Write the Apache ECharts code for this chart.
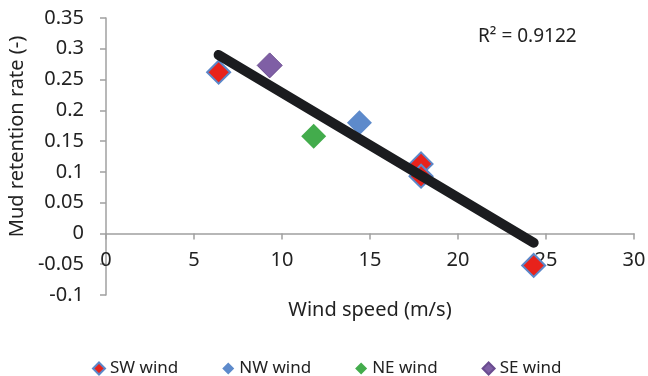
<!DOCTYPE html>
<html>
<head>
<meta charset="utf-8">
<script src="https://cdn.jsdelivr.net/npm/echarts@6/dist/echarts.min.js"></script>
<style>
html, body { margin: 0; padding: 0; background: #fff; }
#chart { width: 648px; height: 376px; }
</style>
</head>
<body>
<div id="chart"></div>
<script>
// wind speed (m/s), mud retention rate (-)
var swWind = [[6.4, 0.262], [17.9, 0.113], [17.9, 0.093], [24.3, -0.052]];
var nwWind = [[14.4, 0.180]];
var neWind = [[11.8, 0.158]];
var seWind = [[9.3, 0.273]];
var trendLine = [[6.4, 0.290], [24.3, -0.015]];
var rSquared = 'R² = 0.9122';

var textColor = '#222';
var axisColor = '#a0a0a0';
var font = 'Noto Sans';

// grid 18..295 px, y from -0.1 to 0.35 -> x axis sits at y = 0
var gridTop = 18, gridBottom = 81, yMin = -0.1, yMax = 0.35;
var plotH = 376 - gridTop - gridBottom;
var zeroOffset = -plotH * (0 - yMin) / (yMax - yMin);

var myChart = echarts.init(document.getElementById('chart'));
var option = {
	backgroundColor : '#fff',
	animation : false,
	textStyle : { fontFamily : font },
	grid : { left : 106, right : 14, top : gridTop, bottom : gridBottom, outerBoundsMode : 'none', containLabel : false },
	legend : {
		left : 87,
		top : 355,
		itemWidth : 12,
		itemHeight : 12,
		itemGap : 44,
		textStyle : { fontSize : 17, color : textColor, fontFamily : font },
		data : [ 'SW wind', 'NW wind', 'NE wind', 'SE wind' ]
	},
	graphic : [ {
		type : 'text',
		left : 478,
		top : 27,
		style : { text : rSquared, fontSize : 19, fill : textColor, fontFamily : font }
	} ],
	xAxis : {
		type : 'value',
		min : 0,
		max : 30,
		interval : 5,
		offset : zeroOffset,
		name : 'Wind speed (m/s)',
		nameLocation : 'middle',
		nameGap : 67,
		nameTextStyle : { fontSize : 20, color : textColor },
		axisLine : { onZero : false, lineStyle : { color : axisColor, width : 1.5 } },
		axisTick : { show : true, length : 6, lineStyle : { color : axisColor, width : 1.5 } },
		axisLabel : { fontSize : 20, color : textColor, margin : 17 },
		splitLine : { show : false }
	},
	yAxis : {
		type : 'value',
		min : yMin,
		max : yMax,
		interval : 0.05,
		name : 'Mud retention rate (-)',
		nameLocation : 'middle',
		nameGap : 71,
		nameTextStyle : { fontSize : 20, color : textColor, padding : [ 0, 0, 0, 40 ] },
		axisLine : { onZero : false, lineStyle : { color : axisColor, width : 1.5 } },
		axisTick : { show : true, length : 6, lineStyle : { color : axisColor, width : 1.5 } },
		axisLabel : {
			fontSize : 20,
			color : textColor,
			margin : 22,
			formatter : function(v) { return String(+v.toFixed(2)); }
		},
		splitLine : { show : false }
	},
	series : [
		{
			name : 'SW wind',
			type : 'scatter',
			symbol : 'diamond',
			symbolSize : 23,
			itemStyle : { color : '#e8221b', borderColor : '#5b87c9', borderWidth : 2, opacity : 1 },
			data : swWind
		},
		{
			name : 'NW wind',
			type : 'scatter',
			symbol : 'diamond',
			symbolSize : 25,
			itemStyle : { color : '#5d8acb', opacity : 1 },
			data : nwWind
		},
		{
			name : 'NE wind',
			type : 'scatter',
			symbol : 'diamond',
			symbolSize : 25,
			itemStyle : { color : '#43ac4c', opacity : 1 },
			data : neWind
		},
		{
			name : 'SE wind',
			type : 'scatter',
			symbol : 'diamond',
			symbolSize : 25,
			itemStyle : { color : '#7f5fa5', borderColor : '#6a4c90', borderWidth : 1, opacity : 1 },
			data : seWind
		},
		{
			name : 'trend',
			type : 'line',
			z : 5,
			symbol : 'none',
			silent : true,
			lineStyle : { color : '#1b1c1f', width : 10, cap : 'round' },
			data : trendLine
		}
	]
};
myChart.setOption(option);
</script>
</body>
</html>
